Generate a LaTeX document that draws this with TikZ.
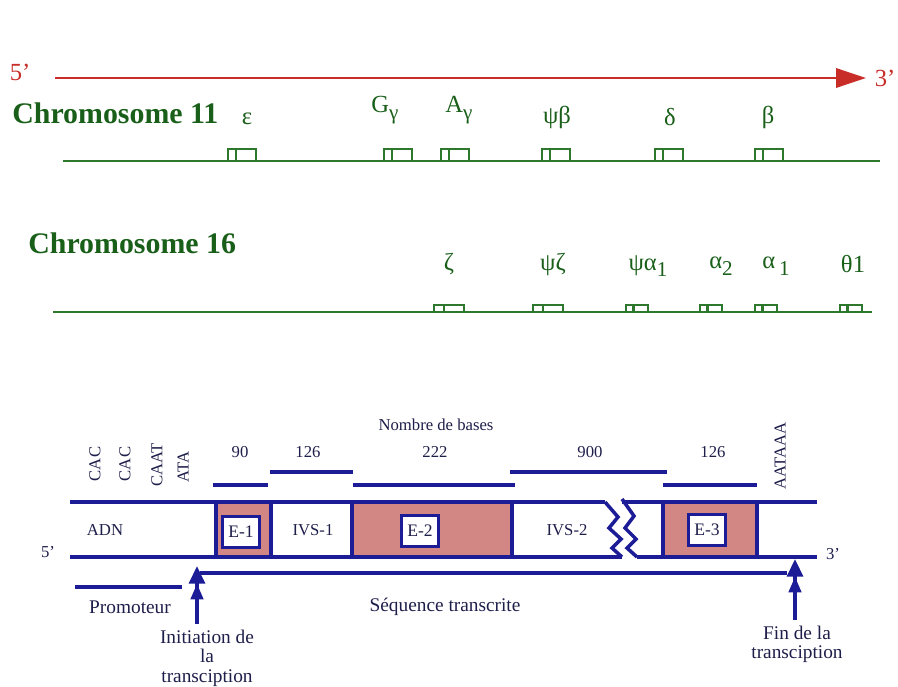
\documentclass[tikz,border=0pt]{standalone}
\usepackage{fontspec}
\setmainfont{Liberation Serif}
\usetikzlibrary{arrows.meta}
\definecolor{redline}{RGB}{200,45,40}
\definecolor{chrgreen}{RGB}{25,95,25}
\definecolor{chrline}{RGB}{45,120,45}
\definecolor{adnblue}{RGB}{28,28,150}
\definecolor{adntext}{RGB}{30,30,75}
\definecolor{exonfill}{RGB}{210,135,132}
\newcommand{\lowsub}[1]{\raisebox{-0.6ex}{\fontsize{12}{12}\selectfont #1}}
\tikzset{
  genebox/.style={draw=chrline,line width=1.6pt,fill=white},
  chrtitle/.style={chrgreen,font=\bfseries\fontsize{17}{17}\selectfont,anchor=base west,inner sep=0pt},
  greek/.style={text=chrgreen,font=\fontsize{14}{14}\selectfont},
  strand/.style={adnblue,line width=2.2pt},
  bar/.style={adnblue,line width=2pt},
  exon/.style={fill=exonfill,draw=adnblue,line width=2pt},
  tag/.style={draw=adnblue,line width=1.8pt,fill=white,text=adntext,font=\fontsize{10}{10}\selectfont,minimum width=21pt,minimum height=18pt,inner sep=1pt},
  txt/.style={adntext,font=\fontsize{11}{11}\selectfont},
  small/.style={adntext,font=\fontsize{9.5}{10}\selectfont},
  vert/.style={small,rotate=90},
  site/.style={adnblue,line width=2pt,-{Triangle[length=9pt,width=7pt]Triangle[length=10pt,width=9pt]}},
}
\begin{document}
\begin{tikzpicture}[x=0.02cm,y=-0.02cm]
            \useasboundingbox (0,0) rectangle (898,686);
            \coordinate(R0)at(55,78);
            \coordinate(R1)at(866,78);
            \draw[redline,line width=1.2pt,-{Triangle[length=17pt,width=11pt]}](R0)--(R1);
            \node[redline,font=\fontsize{14}{14}\selectfont](f5)at(20,72){5'};
            \node[redline,font=\fontsize{14}{14}\selectfont](f3)at(885,78){3'};
            \node[chrtitle](chr11)at(12,123){Chromosome 11};
            \draw[chrline,line width=1.3pt](63,161)--(880,161);
            \foreach \x in {242,398,455,556,669,769}{
              \draw[genebox](\x-14,149)rectangle(\x+14,161);
              \draw[chrline,line width=1.6pt](\x-6,149)--(\x-6,161);
            }
            \node[greek](eps)at(247,119){ε};
            \node[greek](ggam)at(385,110){G\lowsub{γ}};
            \node[greek](agam)at(459,110){A\lowsub{γ}};
            \node[greek](psib)at(557,117){ψβ};
            \node[greek](delt)at(670,117){δ};
            \node[greek](bet)at(768,117){β};
            \node[chrtitle](chr16)at(28,253){Chromosome 16};
            \draw[chrline,line width=1.3pt](53,312)--(872,312);
            \foreach \x/\w in {449/15,548/15,637/11,711/11,766/11,851/11}{
              \draw[genebox](\x-\w,305)rectangle(\x+\w,312);
              \draw[chrline,line width=1.6pt](\x-\w/3,305)--(\x-\w/3,312);
            }
            \node[greek](zeta)at(449,264){ζ};
            \node[greek](psiz)at(553,264){ψζ};
            \node[greek](psia)at(648,266){ψα\lowsub{1}};
            \node[greek](alp2)at(721,266){α\lowsub{2}};
            \node[greek](alp1)at(776,266){α\,\lowsub{1}};
            \node[greek](thet)at(853,264){θ1};
            \node[small](nb)at(436,425){Nombre de bases};
            \node[small](n1)at(240,452){90};
            \node[small](n2)at(308,452){126};
            \node[small](n3)at(435,452){222};
            \node[small](n4)at(590,452){900};
            \node[small](n5)at(713,452){126};
            \draw[bar](213,485)--(268,485);
            \draw[bar](270,472)--(353,472);
            \draw[bar](353,485)--(515,485);
            \draw[bar](510,472)--(667,472);
            \draw[bar](663,485)--(757,485);
            \node[vert](cac1)at(95,464){CAC};
            \node[vert](cac2)at(125,464){CAC};
            \node[vert](caat)at(157,465){CAAT};
            \node[vert](ata)at(183,467){ATA};
            \node[vert](poly)at(780,456){AATAAA};
            \draw[exon](216,502)rectangle(271,557);
            \draw[exon](352,502)rectangle(512,557);
            \draw[exon](663,502)rectangle(757,557);
            \draw[strand](70,502)--(605,502);
            \draw[strand](622,502)--(817,502);
            \draw[strand](70,557)--(622,557);
            \draw[strand](637,557)--(817,557);
            \draw[adnblue,line width=2pt,line join=miter](605,502)--(618,517)--(609,528)--(621,539)--(612,548)--(622,557);
            \draw[adnblue,line width=2pt,line join=miter](622,499)--(634,516)--(625,528)--(636,539)--(627,548)--(637,557);
            \node[tag](e1)at(241,532){E-1};
            \node[tag](e2)at(420,531){E-2};
            \node[tag](e3)at(707,530){E-3};
            \node[small](adn)at(105,530){ADN};
            \node[small](ivs1)at(313,530){IVS-1};
            \node[small](ivs2)at(567,530){IVS-2};
            \node[small](b5)at(48,552){5'};
            \node[small](b3)at(833,554){3'};
            \draw[bar](200,573)--(787,573);
            \draw[bar](75,587)--(182,587);
            \node[txt](prom)at(130,607){Promoteur};
            \node[txt](seq)at(445,607){Séquence transcrite};
            \node[txt,align=center,anchor=north](init)at(207,624){Initiation de\\la\\transciption};
            \coordinate(i1)at(197,566);
            \draw[site](init.north-|i1)--(i1);
            \node[txt,align=center,anchor=north](fin)at(797,620){Fin de la\\transciption};
            \coordinate(f1)at(795,559);
            \draw[site](fin.north-|f1)--(f1);
        \end{tikzpicture}
\end{document}
